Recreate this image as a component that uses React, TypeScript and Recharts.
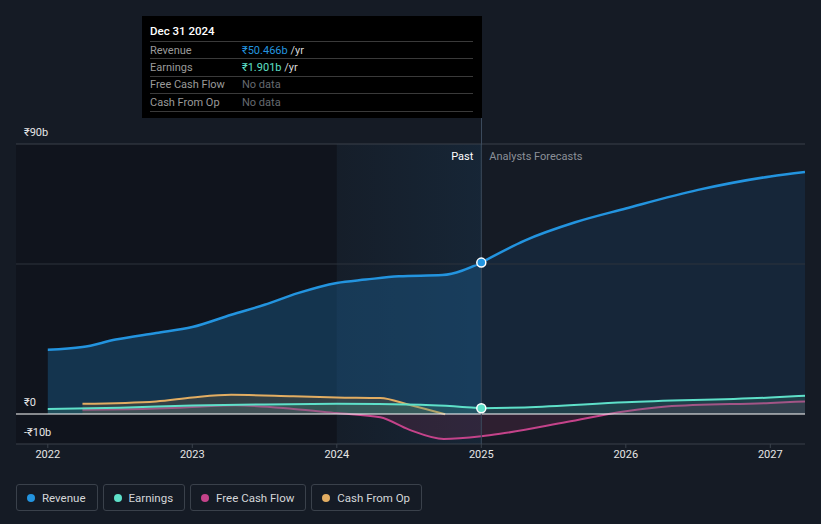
import React from "react";
import {
  ComposedChart,
  Area,
  XAxis,
  YAxis,
  ReferenceLine,
  ReferenceArea,
  ReferenceDot,
} from "recharts";

// years as decimals, values in ₹ billions
const revenuePastYears = [2022.0, 2022.24, 2022.47, 2022.75, 2023.0, 2023.27, 2023.5, 2023.73, 2024.0, 2024.2, 2024.43, 2024.73, 2025.0];
const revenuePastValues = [21.4, 22.3, 24.8, 27.0, 29.0, 33.1, 36.4, 40.3, 43.7, 44.8, 45.9, 46.3, 50.466];
const revenueForecastYears = [2025.0, 2025.3, 2025.65, 2026.0, 2026.5, 2027.0, 2027.24];
const revenueForecastValues = [50.466, 57.8, 63.9, 68.5, 74.7, 79.2, 80.7];

const earningsPastYears = [2022.0, 2022.5, 2023.0, 2023.5, 2024.0, 2024.58, 2025.0];
const earningsPastValues = [1.7, 2.1, 2.8, 3.2, 3.4, 3.1, 1.901];
const earningsForecastYears = [2025.0, 2025.3, 2026.0, 2027.0, 2027.24];
const earningsForecastValues = [1.901, 2.2, 3.9, 5.5, 6.1];

const fcfYears = [2022.24, 2022.75, 2023.0, 2023.3, 2023.7, 2024.0, 2024.3, 2024.5, 2024.74, 2025.0, 2025.13, 2025.59, 2026.0, 2026.28, 2027.0, 2027.24];
const fcfValues = [1.4, 1.8, 2.3, 2.9, 1.7, 0.3, -1.1, -5.2, -8.3, -7.4, -6.6, -2.7, 0.9, 2.5, 3.7, 4.2];

const cfoYears = [2022.24, 2022.75, 2023.0, 2023.27, 2023.7, 2024.0, 2024.3, 2024.5, 2024.75];
const cfoValues = [3.4, 4.2, 5.5, 6.4, 5.9, 5.5, 5.3, 3.1, -0.1];

const yearTicks = [2022, 2023, 2024, 2025, 2026, 2027];
const xMin = 2021.78;
const xMax = 2027.24;
const todayYear = 2025.0;

const pairs = (xs: number[], ys: number[]) => xs.map((x, i) => ({ x, y: ys[i] }));

const revenuePast = pairs(revenuePastYears, revenuePastValues);
const revenueForecast = pairs(revenueForecastYears, revenueForecastValues);
const earningsPast = pairs(earningsPastYears, earningsPastValues);
const earningsForecast = pairs(earningsForecastYears, earningsForecastValues);
const fcf = pairs(fcfYears, fcfValues);
const cfo = pairs(cfoYears, cfoValues);

const COLORS = {
  revenue: "#2394df",
  earnings: "#5ee0c9",
  fcf: "#c4438a",
  cfo: "#e2ad62",
};

const legendItems = [
  { name: "Revenue", color: COLORS.revenue },
  { name: "Earnings", color: COLORS.earnings },
  { name: "Free Cash Flow", color: COLORS.fcf },
  { name: "Cash From Op", color: COLORS.cfo },
];

const yLabel = (text: string) => (props: any) => {
  const { viewBox } = props;
  return (
    <text x={24} y={viewBox.y - 8} fill="#e6e6e6" fontSize={11}>
      {text}
    </text>
  );
};

const PastLabel = (props: any) => {
  const { viewBox } = props;
  return (
    <g>
      <text x={viewBox.x - 8} y={160} fill="#ffffff" fontSize={11} textAnchor="end">
        Past
      </text>
      <text x={viewBox.x + 8} y={160} fill="#8b9098" fontSize={11}>
        Analysts Forecasts
      </text>
    </g>
  );
};

export default function App() {
  const revNow = revenuePastValues[revenuePastValues.length - 1];
  const earnNow = earningsPastValues[earningsPastValues.length - 1];

  const rows = [
    { label: "Revenue", value: `₹${revNow.toFixed(3)}b`, color: COLORS.revenue },
    { label: "Earnings", value: `₹${earnNow.toFixed(3)}b`, color: COLORS.earnings },
    { label: "Free Cash Flow", value: null, color: "" },
    { label: "Cash From Op", value: null, color: "" },
  ];

  return (
    <div
      style={{
        position: "relative",
        width: 821,
        height: 524,
        background: "#151b25",
        fontFamily: "Roboto, sans-serif",
        overflow: "hidden",
      }}
    >
      <style>{`body{margin:0}`}</style>
      <ComposedChart
        width={821}
        height={524}
        margin={{ top: 144, right: 16, bottom: 60, left: 16 }}
      >
        <defs>
          <linearGradient id="pastBand" x1="0" y1="0" x2="1" y2="0">
            <stop offset="0%" stopColor="#1c4a70" stopOpacity={0.12} />
            <stop offset="100%" stopColor="#1c4a70" stopOpacity={0.45} />
          </linearGradient>
        </defs>
        <XAxis
          type="number"
          dataKey="x"
          domain={[xMin, xMax]}
          ticks={yearTicks}
          allowDataOverflow
          height={20}
          axisLine={false}
          tickLine={{ stroke: "#3a414b" }}
          tickSize={4}
          tick={{ fill: "#e6e6e6", fontSize: 11 }}
        />
        <YAxis type="number" dataKey="y" domain={[-10, 90]} hide allowDataOverflow />

        <ReferenceArea x1={xMin} x2={2024} y1={-10} y2={90} fill="#0b0e13" fillOpacity={0.45} stroke="none" />
        <ReferenceArea x1={2024} x2={todayYear} y1={-10} y2={90} fill="url(#pastBand)" stroke="none" />

        <ReferenceLine y={90} stroke="#3a414b" label={yLabel("₹90b")} />
        <ReferenceLine y={50} stroke="#2c333d" />
        <ReferenceLine y={-10} stroke="#3a414b" label={yLabel("-₹10b")} />

        <Area data={revenuePast} dataKey="y" type="monotone" stroke={COLORS.revenue} strokeWidth={2.5} fill="#1a5a8c" fillOpacity={0.45} isAnimationActive={false} />
        <Area data={revenueForecast} dataKey="y" type="monotone" stroke={COLORS.revenue} strokeWidth={2.5} fill="#1a4670" fillOpacity={0.28} isAnimationActive={false} />
        <Area data={cfo} dataKey="y" type="monotone" stroke={COLORS.cfo} strokeWidth={2} fill="#6a5a3a" fillOpacity={0.35} isAnimationActive={false} />
        <Area data={fcf} dataKey="y" type="monotone" stroke={COLORS.fcf} strokeWidth={2} fill="#6a2a4c" fillOpacity={0.3} isAnimationActive={false} />
        <Area data={earningsPast} dataKey="y" type="monotone" stroke={COLORS.earnings} strokeWidth={2} fill="#3a8a7c" fillOpacity={0.3} isAnimationActive={false} />
        <Area data={earningsForecast} dataKey="y" type="monotone" stroke={COLORS.earnings} strokeWidth={2} fill="#3a8a7c" fillOpacity={0.25} isAnimationActive={false} />

        <ReferenceLine y={0} stroke="#ffffff" label={yLabel("₹0")} />
        <ReferenceLine x={todayYear} stroke="#3b4a5c" label={<PastLabel />} />

        <ReferenceDot x={todayYear} y={revNow} r={4.5} fill={COLORS.revenue} stroke="#ffffff" strokeWidth={1.5} />
        <ReferenceDot x={todayYear} y={earnNow} r={4.5} fill={COLORS.earnings} stroke="#ffffff" strokeWidth={1.5} />
      </ComposedChart>

      {/* cursor line above plot */}
      <div style={{ position: "absolute", left: 481, top: 118, width: 1, height: 27, background: "#3b4a5c" }} />

      {/* tooltip */}
      <div
        style={{
          position: "absolute",
          left: 142,
          top: 16,
          width: 340,
          height: 102,
          background: "#000000",
          fontSize: 11,
        }}
      >
        <div style={{ position: "absolute", left: 8, top: 8, color: "#ffffff", fontSize: 11.5, fontWeight: 500 }}>
          Dec 31 2024
        </div>
        {rows.map((r, i) => (
          <div
            key={r.label}
            style={{
              position: "absolute",
              left: 8,
              top: 25 + i * 17.4,
              width: 323,
              height: 16,
              borderTop: "1px solid #3a3a3a",
              display: "flex",
              alignItems: "center",
            }}
          >
            <span style={{ color: "#9a9a9a", width: 92 }}>{r.label}</span>
            {r.value ? (
              <span>
                <span style={{ color: r.color }}>{r.value}</span>
                <span style={{ color: "#d8d8d8" }}> /yr</span>
              </span>
            ) : (
              <span style={{ color: "#666a70" }}>No data</span>
            )}
          </div>
        ))}
        <div style={{ position: "absolute", left: 8, top: 95, width: 323, borderTop: "1px solid #3a3a3a" }} />
      </div>

      {/* legend */}
      <div style={{ position: "absolute", left: 16, top: 484, display: "flex", gap: 5 }}>
        {legendItems.map((item) => (
          <div
            key={item.name}
            style={{
              height: 25,
              border: "1px solid #3a414b",
              borderRadius: 3,
              display: "flex",
              alignItems: "center",
              padding: "0 11px 0 10px",
              color: "#d4d6d9",
              fontSize: 11.5,
            }}
          >
            <span
              style={{
                width: 8,
                height: 8,
                borderRadius: 4,
                background: item.color,
                marginRight: 7,
                display: "inline-block",
              }}
            />
            {item.name}
          </div>
        ))}
      </div>
    </div>
  );
}
